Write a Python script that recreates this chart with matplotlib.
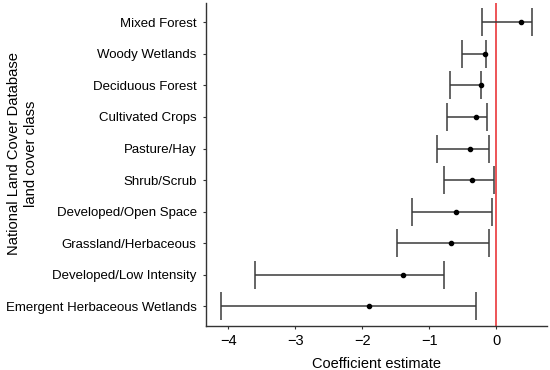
import matplotlib
matplotlib.use("Agg")
import matplotlib.pyplot as plt
import numpy as np

plt.rcParams['font.family'] = ['Liberation Sans', 'DejaVu Sans']

categories = ["Emergent Herbaceous Wetlands", "Developed/Low Intensity", "Grassland/Herbaceous",
              "Developed/Open Space", "Shrub/Scrub", "Pasture/Hay", "Cultivated Crops",
              "Deciduous Forest", "Woody Wetlands", "Mixed Forest"]
estimate = [-1.90, -1.40, -0.68, -0.60, -0.37, -0.39, -0.30, -0.23, -0.17, 0.37]
lower = [-4.11, -3.60, -1.48, -1.26, -0.78, -0.89, -0.74, -0.70, -0.51, -0.21]
upper = [-0.31, -0.78, -0.11, -0.06, -0.03, -0.11, -0.14, -0.23, -0.16, 0.53]
xticks = [-4, -3, -2, -1, 0]

fig = plt.figure(figsize=(5.5, 3.7), dpi=100)
ax = fig.add_axes([0.374, 0.119, 0.620, 0.873])

y = np.arange(1, len(categories) + 1)
est = np.array(estimate)
lo = np.array(lower)
hi = np.array(upper)
ax.errorbar(est, y, xerr=[est - lo, hi - est], fmt='none', ecolor='#3a3a3a',
            elinewidth=1.1, capsize=9.8, capthick=1.1, zorder=2)
ax.scatter(est, y, s=9, color='black', zorder=3)
ax.axvline(0, color='#e8262a', lw=1.1, zorder=1)

ax.set_xlim(-4.34, 0.75)
ax.set_ylim(0.38, 10.61)
ax.set_yticks(y)
ax.set_yticklabels(categories, fontsize=9.5)
ax.set_xticks(xticks)
ax.set_xticklabels([("\u2212" + str(abs(t))) if t < 0 else str(t) for t in xticks], fontsize=10.5)
ax.tick_params(axis='both', colors='#333333', length=2.5, width=0.8, labelcolor='black')
ax.tick_params(axis='y', pad=4)
for s in ['top', 'right']:
    ax.spines[s].set_visible(False)
for s in ['left', 'bottom']:
    ax.spines[s].set_color('#333333')
    ax.spines[s].set_linewidth(1.0)

ax.set_xlabel("Coefficient estimate", fontsize=10.5, labelpad=6)
ax.set_ylabel("National Land Cover Database\nland cover class", fontsize=10.6,
              va='center', ha='center', linespacing=1.3)
ax.yaxis.set_label_coords(-0.538, 0.533)

fig.savefig("out.png", dpi=100)
